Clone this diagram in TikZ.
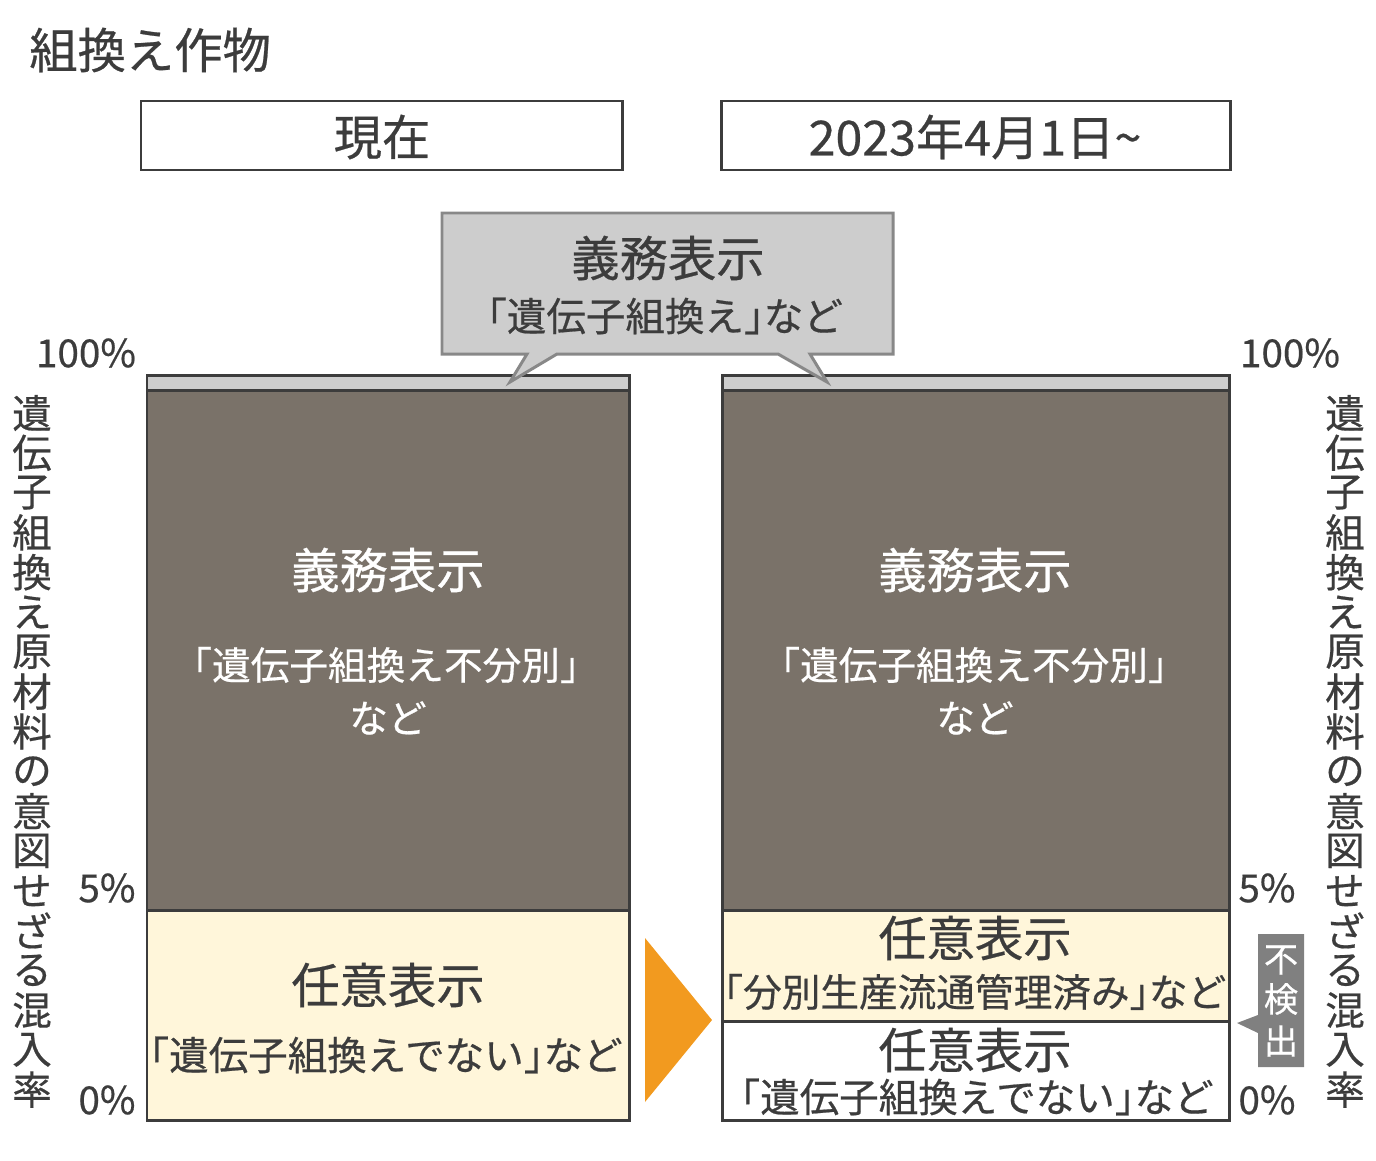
\documentclass[tikz,border=0pt]{standalone}
\usepackage{fontspec}
\setmainfont{Noto Sans CJK JP}[FakeBold=0.5]
\newcommand\ob{\kern-.5em「}
\newcommand\cb{」\kern-.5em}
\definecolor{txt}{HTML}{3C3C3C}
\definecolor{darkfill}{HTML}{7A7269}
\definecolor{cream}{HTML}{FFF6DA}
\definecolor{lgray}{HTML}{CDCDCD}
\definecolor{mgray}{HTML}{888888}
\definecolor{kgray}{HTML}{808080}
\definecolor{orange}{HTML}{F29A1F}
\tikzset{
  big/.style={font=\fontsize{27.5}{30}\selectfont, inner sep=0pt},
  mid/.style={font=\fontsize{22.5}{26}\selectfont, inner sep=0pt},
  midd/.style={font=\fontsize{22}{26}\selectfont, inner sep=0pt},
  pct/.style={font=\fontsize{22}{26}\selectfont, inner sep=0pt, text=txt},
  vchar/.style={font=\fontsize{22.5}{26}\selectfont, inner sep=0pt, text=txt},
  ndchar/.style={font=\fontsize{19.5}{22}\selectfont, inner sep=0pt, text=white},
  barline/.style={draw=txt, line width=1.7pt},
  hdrbox/.style={draw=txt, line width=1.7pt, fill=white},
}
\begin{document}
\begin{tikzpicture}[x=0.02cm,y=-0.02cm]
\useasboundingbox (0,0) rectangle (1376,1160);
% title
\node[big, text=txt, anchor=west] (title) at (29,50) {組換え作物};
% header boxes
\draw[hdrbox] (141,101) rectangle (622,170);
\node[big, text=txt] (now) at (382,137) {現在};
\draw[hdrbox] (721,101) rectangle (1230,170);
\node[big, text=txt] (future) at (975,137) {2023年4月1日\textasciitilde};
% left bar
\fill[lgray] (147,375) rectangle (629,390);
\fill[darkfill] (147,390) rectangle (629,910);
\fill[cream] (147,910) rectangle (629,1120);
\draw[barline] (147,390) -- (629,390);
\draw[barline] (147,910) -- (629,910);
\draw[barline] (147,375) rectangle (629,1120);
% right bar
\fill[lgray] (722,375) rectangle (1229,390);
\fill[darkfill] (722,390) rectangle (1229,910);
\fill[cream] (722,910) rectangle (1229,1021);
\fill[white] (722,1021) rectangle (1229,1120);
\draw[barline] (722,390) -- (1229,390);
\draw[barline] (722,910) -- (1229,910);
\draw[barline] (722,1021) -- (1229,1021);
\draw[barline] (722,375) rectangle (1229,1120);
% callout
\draw[fill=lgray, draw=mgray, line width=1.7pt, line join=miter]
  (442,213) -- (893,213) -- (893,354) -- (810,354) -- (827,382) -- (778,354)
  -- (557,354) -- (510,382) -- (527,354) -- (442,354) -- cycle;
\node[big, text=txt] (c1) at (668,258) {義務表示};
\node[mid, text=txt] (c2) at (665,316) {\ob 遺伝子組換え\cb など};
% left bar texts
\node[big, text=white] (l1) at (388,570) {義務表示};
\node[midd, text=white] (l2) at (386,665) {\ob 遺伝子組換え不分別\cb};
\node[midd, text=white] (l3) at (388,718) {など};
\node[big, text=txt] (l4) at (388,985) {任意表示};
\node[mid, text=txt] (l5) at (386,1055) {\ob 遺伝子組換えでない\cb など};
% right bar texts
\node[big, text=white] (r1) at (975,570) {義務表示};
\node[midd, text=white] (r2) at (974,665) {\ob 遺伝子組換え不分別\cb};
\node[midd, text=white] (r3) at (975,718) {など};
\node[big, text=txt] (r4) at (975,938) {任意表示};
\node[midd, text=txt] (r5) at (975,992) {\ob 分別生産流通管理済み\cb など};
\node[big, text=txt] (r6) at (975,1050) {任意表示};
\node[mid, text=txt] (r7) at (977,1097) {\ob 遺伝子組換えでない\cb など};
% percent labels
\node[pct] (p100l) at (86,353) {100\%};
\node[pct] (p5l) at (107,888) {5\%};
\node[pct] (p0l) at (107,1100) {0\%};
\node[pct] (p100r) at (1290,353) {100\%};
\node[pct] (p5r) at (1267,888) {5\%};
\node[pct] (p0r) at (1267,1100) {0\%};
% vertical axis labels
\foreach \c [count=\i] in {遺,伝,子,組,換,え,原,材,料,の,意,図,せ,ざ,る,混,入,率}{
  \node[vchar] (L\i) at (32,{413+(\i-1)*39.8}) {\c};
  \node[vchar] (R\i) at (1345,{413+(\i-1)*39.8}) {\c};
}
% orange arrow
\fill[orange] (645,938) -- (712,1020) -- (645,1102) -- cycle;
% not-detected tag
\fill[kgray] (1258,934) -- (1304,934) -- (1304,1067) -- (1258,1067) -- (1258,1033)
  -- (1237,1023) -- (1258,1015) -- cycle;
\node[ndchar] (nd1) at (1281,960) {不};
\node[ndchar] (nd2) at (1281,999) {検};
\node[ndchar] (nd3) at (1281,1041) {出};
\end{tikzpicture}
\end{document}
